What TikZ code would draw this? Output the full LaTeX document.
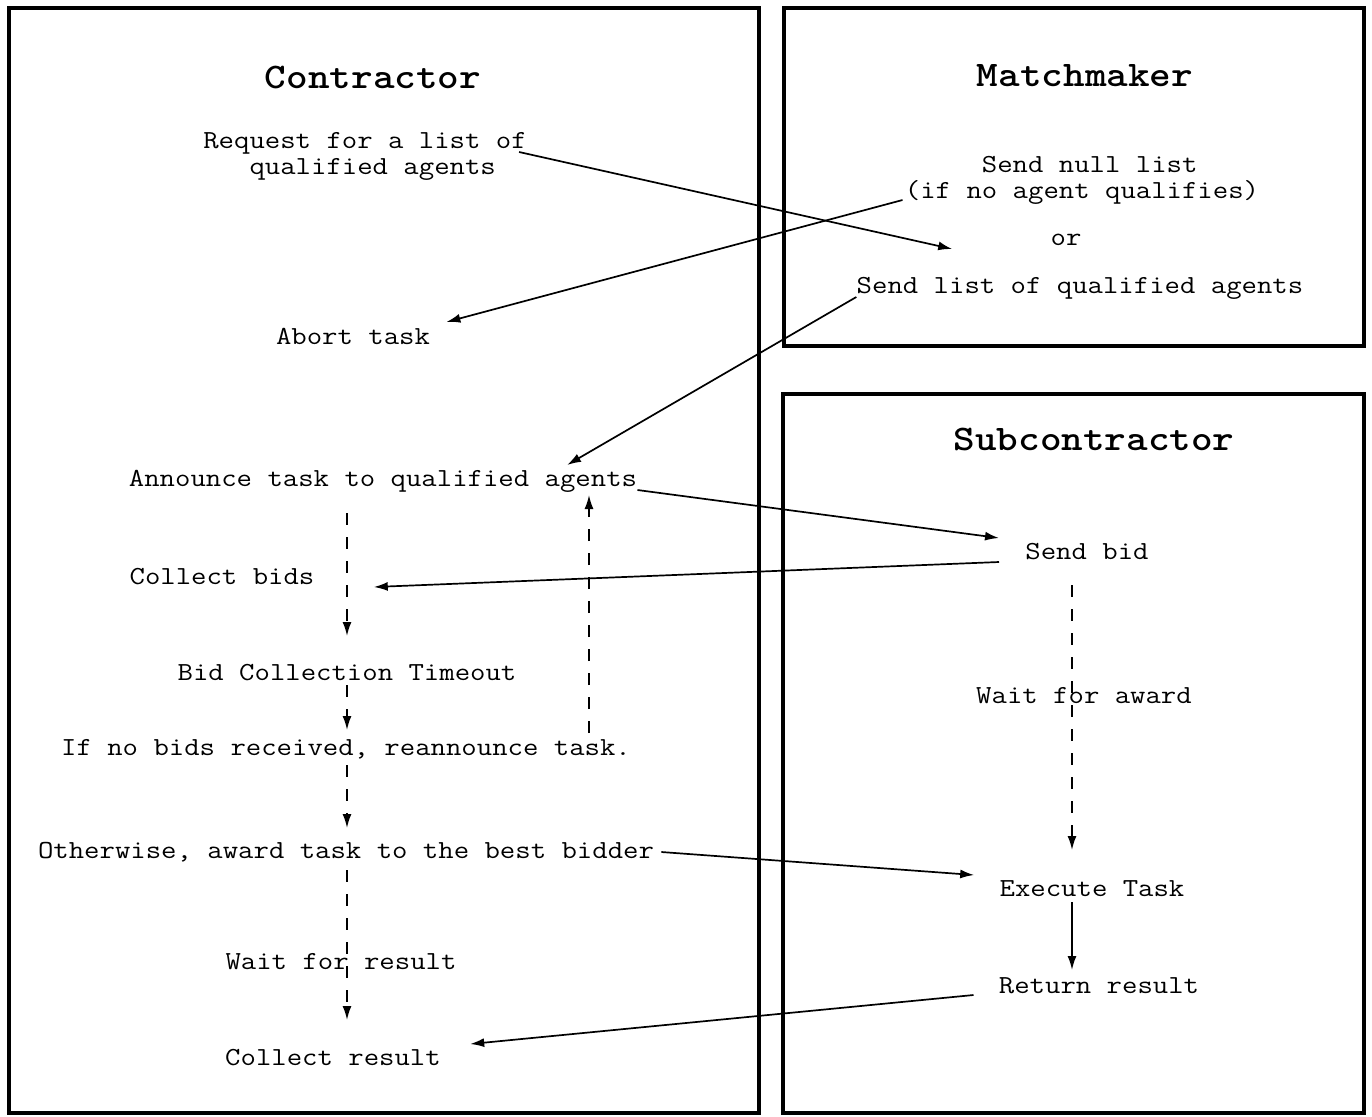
\documentclass[tikz,border=0pt]{standalone}
\usepackage{fontspec}
\setmainfont{Liberation Mono}
\newfontfamily\bodyfont[FakeStretch=1.15]{Latin Modern Mono}
\newfontfamily\titlefont[FakeStretch=1.143]{Latin Modern Mono Light}
\usetikzlibrary{calc,arrows.meta}
\tikzset{
  lbl/.style={inner sep=0pt, font=\bodyfont\fontsize{13}{13}\selectfont},
  ttl/.style={inner sep=0pt, font=\titlefont\fontsize{18}{20}\selectfont\bfseries},
  frame/.style={draw, line width=2pt},
  arr/.style={-{Latex[length=7pt,width=4.5pt]}, line width=0.85pt},
  darr/.style={arr, dash pattern=on 6pt off 6pt},
}
\begin{document}
\begin{tikzpicture}[x=0.5pt,y=-0.5pt]
\useasboundingbox (0,0) rectangle (1372,1116);
% frames
\draw[frame] (9,8) rectangle (759,1113);
\draw[frame] (784,8) rectangle (1364,346);
\draw[frame] (783,394) rectangle (1364,1113);
% titles
\node[ttl] (tcon) at (373,77) {Contractor};
\node[ttl] (tmat) at (1085,76) {Matchmaker};
\node[ttl] (tsub) at (1094,439) {Subcontractor};
% contractor texts
\node[lbl, align=left] (req) at (365,156) {Request for a list of\\\phantom{Req}qualified agents};
\node[lbl] (abort) at (353,336) {Abort task};
\node[lbl] (announce) at (383,481) {Announce task to qualified agents};
\node[lbl] (cbids) at (222,577) {Collect bids};
\node[lbl] (timeout) at (347,673) {Bid Collection Timeout};
\node[lbl] (ifno) at (346,749) {If no bids received, reannounce task.};
\node[lbl] (other) at (346,852) {Otherwise, award task to the best bidder};
\node[lbl] (waitres) at (341,962) {Wait for result};
\node[lbl] (collres) at (333,1058) {Collect result};
% matchmaker texts
\node[lbl, align=left] (null) at (1082,179) {\phantom{(if n}Send null list\\(if no agent qualifies)};
\node[lbl] (or) at (1066,240) {or};
\node[lbl] (sendlist) at (1080,288) {Send list of qualified agents};
% subcontractor texts
\node[lbl] (sendbid) at (1087,552) {Send bid};
\node[lbl] (waitaw) at (1084,696) {Wait for award};
\node[lbl] (exec) at (1092,889) {Execute Task};
\node[lbl] (retres) at (1099,986) {Return result};
% connectors
\draw[arr] ($(req.east)+(-8,-4)$) -- ($(or.west)+(-98,9)$);
\draw[arr] ($(null.west)+(-2,21)$) -- ($(abort.east)+(16,-14)$);
\draw[arr] ($(sendlist.west)+(0,9)$) -- ($(announce.center)+(184,-16)$);
\draw[arr] ($(announce.east)+(0,9)$) -- ($(sendbid.west)+(-26,-14)$);
\draw[arr] ($(sendbid.west)+(-26,10)$) -- ($(cbids.east)+(59,10)$);
\draw[darr] ($(timeout.center)+(0,-160)$) -- ($(timeout.center)+(0,-37)$);
\draw[darr] ($(timeout.center)+(0,12)$) -- ($(timeout.center)+(0,57)$);
\draw[darr] ($(ifno.center)+(1,16)$) -- ($(ifno.center)+(1,79)$);
\draw[darr] ($(ifno.center)+(243,-16)$) -- ($(announce.center)+(206,14)$);
\draw[arr] ($(other.east)+(7,0)$) -- ($(exec.west)+(-25,-14)$);
\draw[darr] ($(other.center)+(1,18)$) -- ($(collres.center)+(14,-38)$);
\draw[darr] ($(sendbid.center)+(-15,33)$) -- ($(exec.center)+(-20,-39)$);
\draw[arr] ($(exec.center)+(-20,13)$) -- ($(retres.center)+(-27,-16)$);
\draw[arr] ($(retres.west)+(-25,9)$) -- ($(collres.east)+(29,-14)$);
\end{tikzpicture}
\end{document}
